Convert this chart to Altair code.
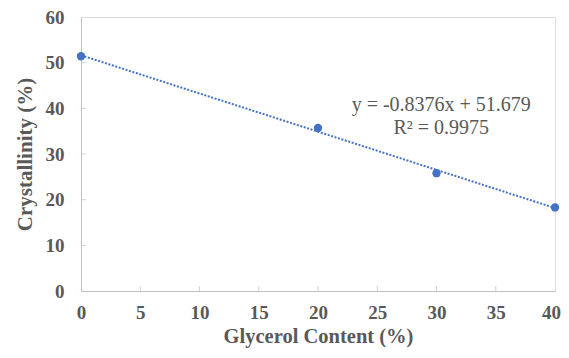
import altair as alt
import pandas as pd

glycerol = [0, 20, 30, 40]
crystallinity = [51.4, 35.7, 25.8, 18.3]
x_ticks = [0, 5, 10, 15, 20, 25, 30, 35, 40]
y_ticks = [0, 10, 20, 30, 40, 50, 60]
equation = "y = -0.8376x + 51.679\nR² = 0.9975"

df = pd.DataFrame({"x": glycerol, "y": crystallinity})
xt = pd.DataFrame({"x": x_ticks[1:-1], "y": [0] * (len(x_ticks) - 2)})
yt = pd.DataFrame({"x": [0] * (len(y_ticks) - 2), "y": y_ticks[1:-1]})

FONT = "Liberation Serif"
GRAY = "#bfbfbf"
TXT = "#595959"
BLUE = "#4472C4"

xs = alt.Scale(domain=[0, 40], nice=False, zero=False)
ys = alt.Scale(domain=[0, 60], nice=False)

xaxis = alt.Axis(values=x_ticks, ticks=False, grid=False, domainColor=GRAY, labelFlush=False,
                 labelFont=FONT, labelFontSize=19, labelFontWeight="bold", labelColor=TXT,
                 labelPadding=12,
                 labelOffset={"condition": {"test": "datum.value == 40", "value": -4}, "value": 0},
                 title="Glycerol Content (%)", titleFont=FONT,
                 titleFontSize=20.5, titleFontWeight="bold", titleColor=TXT, titlePadding=4)
yaxis = alt.Axis(values=y_ticks, ticks=False, grid=False, domainColor=GRAY, labelFlush=False,
                 labelFont=FONT, labelFontSize=19, labelFontWeight="bold", labelColor=TXT,
                 labelPadding=17, title="Crystallinity (%)", titleFont=FONT,
                 titleFontSize=21, titleFontWeight="bold", titleColor=TXT, titlePadding=10)

base = alt.Chart(df)

trend = base.transform_regression("x", "y", extent=[0, 40]).mark_line(
    color=BLUE, strokeWidth=2, strokeDash=[2, 1.6]
).encode(x=alt.X("x:Q", scale=xs, axis=xaxis), y=alt.Y("y:Q", scale=ys, axis=yaxis))

pts = base.mark_circle(color=BLUE, size=70, opacity=1, clip=False).encode(
    x=alt.X("x:Q", scale=xs), y=alt.Y("y:Q", scale=ys))

xticks = alt.Chart(xt).mark_tick(color=GRAY, size=10, thickness=1, orient="vertical", clip=True).encode(
    x=alt.X("x:Q", scale=xs), y=alt.Y("y:Q", scale=ys))
yticks = alt.Chart(yt).mark_tick(color=GRAY, size=10, thickness=1, orient="horizontal", clip=True).encode(
    x=alt.X("x:Q", scale=xs), y=alt.Y("y:Q", scale=ys))

label = alt.Chart(pd.DataFrame({"t": [equation]})).mark_text(
    font=FONT, fontSize=20, color=TXT, lineBreak="\n", lineHeight=23, align="center", baseline="middle"
).encode(x=alt.datum(30.4, scale=xs), y=alt.datum(40.8, scale=ys), text="t:N")

chart = alt.layer(xticks, yticks, trend, pts, label).properties(
    width=474, height=274,
    autosize=alt.AutoSizeParams(type="none"),
    padding={"left": 73, "top": 9, "right": 6, "bottom": 59},
).configure_view(stroke=GRAY, strokeWidth=1).configure(background="white")

chart.save("out.html", embed_options={"renderer": "svg", "actions": False})
